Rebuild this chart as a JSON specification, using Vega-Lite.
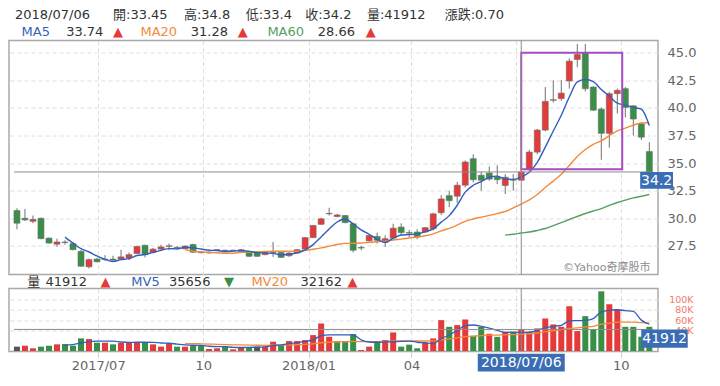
{
 "$schema": "https://vega.github.io/schema/vega-lite/v6.json",
 "background": "white",
 "padding": {"left": 8, "top": 7.5, "right": 2, "bottom": 2},
 "bounds": "flush",
 "spacing": 14,
 "config": {
  "font": "DejaVu Sans, Noto Sans CJK TC, sans-serif",
  "view": {"stroke": "#a9a9a9", "strokeWidth": 1.5},
  "axis": {"gridColor": "#dedede", "gridDash": [4, 3], "gridWidth": 1, "labelColor": "#666666", "labelOverlap": false, "labelFlush": false, "labelBound": false, "titleOpacity": 0}
 },
 "datasets": {
  "k": [
   {"d":"2017-04-21","o":30.7,"h":30.9,"l":29.0,"c":29.55,"v":8400,"vd":"f"},
   {"d":"2017-04-28","o":30.0,"h":30.85,"l":29.75,"c":29.85,"v":10300,"vd":"u"},
   {"d":"2017-05-05","o":29.72,"h":30.25,"l":29.55,"c":29.9,"v":5200,"vd":"u"},
   {"d":"2017-05-12","o":30.0,"h":30.05,"l":28.1,"c":28.15,"v":8400,"vd":"d"},
   {"d":"2017-05-19","o":28.2,"h":28.25,"l":27.7,"c":27.75,"v":10300,"vd":"d"},
   {"d":"2017-05-26","o":27.65,"h":28.15,"l":27.4,"c":27.85,"v":12900,"vd":"u"},
   {"d":"2017-06-02","o":27.85,"h":28.0,"l":27.6,"c":27.8,"v":13500,"vd":"d","m5":28.29,"v5":11500},
   {"d":"2017-06-09","o":27.7,"h":27.85,"l":27.1,"c":27.15,"v":10300,"vd":"d","m5":27.74,"v5":12500},
   {"d":"2017-06-16","o":27.0,"h":27.1,"l":25.6,"c":25.65,"v":24500,"vd":"d","m5":27.24,"v5":15500},
   {"d":"2017-06-23","o":25.6,"h":26.35,"l":25.45,"c":26.25,"v":23200,"vd":"u","m5":26.94,"v5":18000},
   {"d":"2017-06-30","o":26.3,"h":26.4,"l":26.0,"c":26.05,"v":16100,"vd":"d","m5":26.58,"v5":19000},
   {"d":"2017-07-07","o":26.3,"h":26.65,"l":26.15,"c":26.25,"v":16100,"vd":"u","m5":26.27,"v5":19000},
   {"d":"2017-07-14","o":26.3,"h":26.6,"l":26.15,"c":26.2,"v":12900,"vd":"d","m5":26.08,"v5":19000},
   {"d":"2017-07-21","o":26.3,"h":27.15,"l":26.25,"c":26.5,"v":16100,"vd":"u","m5":26.25,"v5":17500},
   {"d":"2017-07-28","o":26.4,"h":26.9,"l":26.2,"c":26.7,"v":17400,"vd":"u","m5":26.34,"v5":16800},
   {"d":"2017-08-04","o":26.8,"h":27.5,"l":26.75,"c":27.45,"v":17400,"vd":"u","m5":26.62,"v5":17000},
   {"d":"2017-08-11","o":27.55,"h":27.6,"l":26.45,"c":26.7,"v":16100,"vd":"d","m5":26.71,"v5":17000},
   {"d":"2017-08-18","o":26.9,"h":27.3,"l":26.8,"c":27.2,"v":12900,"vd":"u","m5":26.91,"v5":16800},
   {"d":"2017-08-25","o":27.2,"h":27.6,"l":27.1,"c":27.4,"v":8400,"vd":"u","m5":27.09,"v5":15500},
   {"d":"2017-09-01","o":27.45,"h":27.7,"l":27.1,"c":27.5,"v":14800,"vd":"u","m5":27.25,"v5":15000},
   {"d":"2017-09-08","o":27.35,"h":27.5,"l":27.15,"c":27.3,"v":8400,"vd":"d","m5":27.22,"v5":13500},
   {"d":"2017-09-15","o":27.23,"h":27.55,"l":27.2,"c":27.47,"v":8400,"vd":"u","m5":27.37,"m20":27.16,"v5":12000,"v20":14500},
   {"d":"2017-09-22","o":27.62,"h":27.7,"l":26.85,"c":26.92,"v":10300,"vd":"d","m5":27.32,"m20":27.01,"v5":11200,"v20":14300},
   {"d":"2017-09-29","o":26.95,"h":27.0,"l":26.8,"c":26.88,"v":10300,"vd":"d","m5":27.21,"m20":26.95,"v5":11000,"v20":14000},
   {"d":"2017-10-06","o":26.85,"h":27.0,"l":26.8,"c":26.92,"v":3900,"vd":"u","m5":27.1,"m20":26.91,"v5":9200,"v20":13500},
   {"d":"2017-10-13","o":27.1,"h":27.2,"l":27.05,"c":27.15,"v":5200,"vd":"u","m5":27.07,"m20":26.87,"v5":8500,"v20":13000},
   {"d":"2017-10-20","o":27.1,"h":27.15,"l":27.0,"c":27.05,"v":8400,"vd":"d","m5":26.98,"m20":26.83,"v5":8300,"v20":12500},
   {"d":"2017-10-27","o":27.05,"h":27.15,"l":27.0,"c":27.1,"v":3200,"vd":"u","m5":27.02,"m20":26.83,"v5":7200,"v20":12000},
   {"d":"2017-11-03","o":27.0,"h":27.2,"l":26.95,"c":27.15,"v":6500,"vd":"u","m5":27.07,"m20":26.91,"v5":6800,"v20":11800},
   {"d":"2017-11-10","o":27.0,"h":27.05,"l":26.5,"c":26.55,"v":6500,"vd":"d","m5":27.0,"m20":26.92,"v5":7000,"v20":11500},
   {"d":"2017-11-17","o":26.95,"h":27.0,"l":26.5,"c":26.55,"v":8400,"vd":"f","m5":26.88,"m20":26.95,"v5":7600,"v20":11200},
   {"d":"2017-11-24","o":26.7,"h":26.95,"l":26.65,"c":26.9,"v":8400,"vd":"u","m5":26.85,"m20":26.98,"v5":7800,"v20":11000},
   {"d":"2017-12-01","o":26.9,"h":27.85,"l":26.5,"c":26.95,"v":18000,"vd":"u","m5":26.82,"m20":27.02,"v5":10500,"v20":11200},
   {"d":"2017-12-08","o":26.9,"h":26.95,"l":26.4,"c":26.45,"v":11600,"vd":"d","m5":26.68,"m20":27.01,"v5":11800,"v20":11400},
   {"d":"2017-12-15","o":26.6,"h":26.95,"l":26.5,"c":26.85,"v":19300,"vd":"u","m5":26.74,"m20":27.02,"v5":14200,"v20":11800},
   {"d":"2017-12-22","o":26.85,"h":27.2,"l":26.8,"c":27.15,"v":19300,"vd":"u","m5":26.86,"m20":27.01,"v5":16300,"v20":12300},
   {"d":"2017-12-29","o":27.2,"h":28.3,"l":27.15,"c":28.25,"v":21300,"vd":"u","m5":27.13,"m20":27.08,"v5":18600,"v20":13000},
   {"d":"2018-01-05","o":28.25,"h":29.4,"l":28.2,"c":29.35,"v":30900,"vd":"u","m5":27.61,"m20":27.19,"v5":21500,"v20":14000},
   {"d":"2018-01-12","o":29.45,"h":30.05,"l":29.4,"c":29.95,"v":53500,"vd":"u","m5":28.31,"m20":27.32,"v5":29800,"v20":16000},
   {"d":"2018-01-19","o":30.4,"h":30.95,"l":30.25,"c":30.45,"v":27700,"vd":"u","m5":29.03,"m20":27.47,"v5":31500,"v20":17000},
   {"d":"2018-01-26","o":30.15,"h":30.4,"l":30.1,"c":30.3,"v":19300,"vd":"d","m5":29.66,"m20":27.62,"v5":31500,"v20":17500},
   {"d":"2018-02-02","o":30.25,"h":30.3,"l":29.55,"c":29.6,"v":19300,"vd":"d","m5":29.93,"m20":27.72,"v5":31200,"v20":17800},
   {"d":"2018-02-09","o":29.5,"h":29.6,"l":26.9,"c":27.1,"v":32900,"vd":"d","m5":29.48,"m20":27.73,"v5":31200,"v20":18500},
   {"d":"2018-02-16","o":27.35,"h":27.5,"l":27.1,"c":27.3,"v":2000,"vd":"u","m5":28.95,"m20":27.75,"v5":21500,"v20":18300},
   {"d":"2018-02-23","o":27.95,"h":28.5,"l":27.9,"c":28.45,"v":8400,"vd":"u","m5":28.55,"m20":27.83,"v5":17500,"v20":18200},
   {"d":"2018-03-02","o":28.35,"h":28.7,"l":27.7,"c":28.0,"v":18000,"vd":"d","m5":28.09,"m20":27.87,"v5":17000,"v20":18300},
   {"d":"2018-03-09","o":27.85,"h":28.45,"l":27.4,"c":28.15,"v":21300,"vd":"u","m5":27.8,"m20":27.93,"v5":17500,"v20":18600},
   {"d":"2018-03-16","o":28.2,"h":29.5,"l":28.1,"c":29.1,"v":36100,"vd":"u","m5":28.2,"m20":28.03,"v5":18000,"v20":19500},
   {"d":"2018-03-23","o":29.2,"h":29.55,"l":28.45,"c":28.7,"v":8400,"vd":"d","m5":28.48,"m20":28.11,"v5":18800,"v20":19400},
   {"d":"2018-03-30","o":28.7,"h":28.95,"l":28.3,"c":28.65,"v":12300,"vd":"d","m5":28.52,"m20":28.21,"v5":19200,"v20":19600},
   {"d":"2018-04-06","o":28.75,"h":29.0,"l":28.1,"c":28.3,"v":5200,"vd":"d","m5":28.58,"m20":28.3,"v5":17000,"v20":19400},
   {"d":"2018-04-13","o":28.75,"h":29.2,"l":28.7,"c":29.15,"v":16100,"vd":"u","m5":28.78,"m20":28.41,"v5":16000,"v20":19400},
   {"d":"2018-04-20","o":29.05,"h":30.5,"l":28.9,"c":30.4,"v":24500,"vd":"u","m5":29.04,"m20":28.58,"v5":14500,"v20":19600},
   {"d":"2018-04-27","o":30.5,"h":32.1,"l":30.3,"c":31.75,"v":60000,"vd":"u","m5":29.65,"m20":28.85,"v5":24000,"v20":21500},
   {"d":"2018-05-04","o":32.05,"h":32.5,"l":31.0,"c":31.6,"v":47000,"vd":"d","m5":30.24,"m20":29.09,"v5":31000,"v20":23500},
   {"d":"2018-05-11","o":32.0,"h":33.3,"l":31.4,"c":33.0,"v":50300,"vd":"u","m5":31.18,"m20":29.38,"v5":40000,"v20":25500},
   {"d":"2018-05-18","o":33.0,"h":35.25,"l":32.8,"c":35.1,"v":61300,"vd":"u","m5":32.37,"m20":29.72,"v5":49500,"v20":28000},
   {"d":"2018-05-25","o":35.4,"h":35.8,"l":33.25,"c":33.5,"v":29700,"vd":"d","m5":32.99,"m20":29.93,"v5":50500,"v20":28500},
   {"d":"2018-06-01","o":33.9,"h":34.2,"l":32.5,"c":33.45,"v":47000,"vd":"d","m5":33.33,"m20":30.1,"v5":48000,"v20":30000},
   {"d":"2018-06-08","o":34.1,"h":34.7,"l":33.4,"c":33.55,"v":33500,"vd":"u","m5":33.72,"m20":30.26,"v5":44500,"v20":30800},
   {"d":"2018-06-15","o":33.75,"h":34.8,"l":33.1,"c":33.5,"v":27500,"vd":"d","m5":33.82,"m20":30.42,"v5":40000,"v20":31000},
   {"d":"2018-06-22","o":32.97,"h":34.0,"l":32.2,"c":33.72,"v":37400,"vd":"u","m5":33.54,"m20":30.62,"m60":28.48,"v5":36000,"v20":31500},
   {"d":"2018-06-29","o":33.5,"h":34.0,"l":32.5,"c":33.45,"v":37400,"vd":"d","m5":33.53,"m20":30.94,"m60":28.55,"v5":36500,"v20":31800},
   {"d":"2018-07-06","o":33.45,"h":34.8,"l":33.4,"c":34.2,"v":41912,"vd":"u","m5":33.74,"m20":31.28,"m60":28.66,"v5":35656,"v20":32162},
   {"d":"2018-07-13","o":34.45,"h":36.2,"l":34.3,"c":36.0,"v":37400,"vd":"u","m5":34.17,"m20":31.66,"m60":28.75,"v5":36500,"v20":33500},
   {"d":"2018-07-20","o":36.0,"h":38.1,"l":35.8,"c":38.0,"v":43900,"vd":"u","m5":35.07,"m20":32.16,"m60":28.89,"v5":39800,"v20":35000},
   {"d":"2018-07-27","o":38.0,"h":41.9,"l":37.9,"c":40.6,"v":63200,"vd":"u","m5":36.45,"m20":32.79,"m60":29.07,"v5":45000,"v20":37500},
   {"d":"2018-08-03","o":40.7,"h":42.5,"l":40.5,"c":40.75,"v":51600,"vd":"u","m5":37.91,"m20":33.37,"m60":29.34,"v5":48000,"v20":39500},
   {"d":"2018-08-10","o":40.85,"h":42.55,"l":40.65,"c":41.35,"v":47000,"vd":"u","m5":39.34,"m20":34.0,"m60":29.61,"v5":50000,"v20":41500},
   {"d":"2018-08-17","o":42.45,"h":44.5,"l":41.75,"c":44.25,"v":87000,"vd":"u","m5":40.99,"m20":34.78,"m60":29.89,"v5":58600,"v20":44000},
   {"d":"2018-08-24","o":44.4,"h":45.8,"l":43.7,"c":44.85,"v":38700,"vd":"u","m5":42.36,"m20":35.61,"m60":30.16,"v5":59000,"v20":45000},
   {"d":"2018-08-31","o":45.0,"h":45.8,"l":41.5,"c":41.75,"v":67700,"vd":"d","m5":42.59,"m20":36.24,"m60":30.43,"v5":59500,"v20":47000},
   {"d":"2018-09-07","o":41.9,"h":41.95,"l":39.75,"c":39.8,"v":42000,"vd":"d","m5":42.4,"m20":36.71,"m60":30.66,"v5":63000,"v20":48000},
   {"d":"2018-09-14","o":39.9,"h":40.05,"l":35.3,"c":37.7,"v":116000,"vd":"d","m5":41.67,"m20":37.01,"m60":30.88,"v5":76000,"v20":52000},
   {"d":"2018-09-21","o":37.7,"h":41.45,"l":36.4,"c":41.3,"v":90900,"vd":"u","m5":41.08,"m20":37.49,"m60":31.16,"v5":79000,"v20":54000},
   {"d":"2018-09-28","o":41.3,"h":41.75,"l":39.5,"c":41.6,"v":80700,"vd":"u","m5":40.43,"m20":37.92,"m60":31.43,"v5":80200,"v20":56000},
   {"d":"2018-10-05","o":41.75,"h":41.9,"l":39.15,"c":40.05,"v":47000,"vd":"d","m5":40.25,"m20":38.17,"m60":31.65,"v5":78500,"v20":56300},
   {"d":"2018-10-12","o":40.2,"h":40.25,"l":37.5,"c":39.0,"v":47000,"vd":"d","m5":40.05,"m20":38.44,"m60":31.85,"v5":77000,"v20":56000},
   {"d":"2018-10-19","o":38.55,"h":38.7,"l":37.1,"c":37.35,"v":27700,"vd":"d","m5":39.9,"m20":38.64,"m60":32.0,"v5":60000,"v20":55000},
   {"d":"2018-10-26","o":36.05,"h":36.9,"l":33.6,"c":34.0,"v":47000,"vd":"d","m5":38.4,"m20":38.66,"m60":32.15,"v5":52000,"v20":54300}
  ],
  "sel": [{"d": "2018-07-06", "c": 34.2, "v": 41912, "dl": "2018/07/06"}],
  "box": [{"d": "2018-07-06", "d2": "2018-10-02T07:00:00Z", "p1": 34.45, "p2": 45.0}],
  "wm": [{"d": "2018-10-27", "p": 25.53, "t": "©Yahoo奇摩股市"}],
  "hdr": [
   {"d":"2017-04-19T07:00:00Z","p":48.47,"t":"2018/07/06","k":"t"},
   {"d":"2017-07-14","p":48.47,"t":"開:33.45","k":"t"},
   {"d":"2017-09-14","p":48.47,"t":"高:34.8","k":"t"},
   {"d":"2017-11-07","p":48.47,"t":"低:33.4","k":"t"},
   {"d":"2017-12-29","p":48.47,"t":"收:34.2","k":"t"},
   {"d":"2018-02-21","p":48.47,"t":"量:41912","k":"t"},
   {"d":"2018-04-30","p":48.47,"t":"漲跌:0.70","k":"t"},
   {"d":"2017-04-25","p":46.93,"t":"MA5","k":"a5"},
   {"d":"2017-06-03","p":46.93,"t":"33.74","k":"t"},
   {"d":"2017-07-14","p":46.93,"t":"▲","k":"u"},
   {"d":"2017-08-07","p":46.93,"t":"MA20","k":"a20"},
   {"d":"2017-09-20","p":46.93,"t":"31.28","k":"t"},
   {"d":"2017-10-31","p":46.93,"t":"▲","k":"u"},
   {"d":"2017-11-26","p":46.93,"t":"MA60","k":"a60"},
   {"d":"2018-01-09","p":46.93,"t":"28.66","k":"t"},
   {"d":"2018-02-20","p":46.93,"t":"▲","k":"u"}
  ],
  "vhdr": [
   {"d":"2017-04-30","p":134400,"t":"量","k":"t"},
   {"d":"2017-05-16","p":134400,"t":"41912","k":"t"},
   {"d":"2017-07-03","p":134400,"t":"▲","k":"u"},
   {"d":"2017-07-30","p":134400,"t":"MV5","k":"a5"},
   {"d":"2017-09-01","p":134400,"t":"35656","k":"t"},
   {"d":"2017-10-19","p":134400,"t":"▼","k":"d"},
   {"d":"2017-11-12","p":134400,"t":"MV20","k":"a20"},
   {"d":"2017-12-25","p":134400,"t":"32162","k":"t"},
   {"d":"2018-02-04","p":134400,"t":"▲","k":"u"}
  ]
 },
 "vconcat": [
  {
   "width": 649,
   "height": 234,
   "encoding": {
    "x": {"field": "d", "type": "temporal", "title": null,
     "scale": {"type": "utc", "domain": [{"year": 2017, "month": 4, "date": 18, "hours": 10, "utc": true}, {"year": 2018, "month": 10, "date": 29, "hours": 5, "utc": true}]},
     "axis": {"values": [{"year": 2017, "month": 7, "date": 1, "utc": true}, {"year": 2017, "month": 10, "date": 1, "utc": true}, {"year": 2018, "month": 1, "date": 1, "utc": true}, {"year": 2018, "month": 4, "date": 1, "utc": true}, {"year": 2018, "month": 7, "date": 1, "utc": true}, {"year": 2018, "month": 10, "date": 1, "utc": true}],
      "tickCount": 40, "labels": false, "ticks": false, "domain": false, "grid": true}}
   },
   "layer": [
    {"data": {"name": "k"}, "mark": {"type": "rule", "color": "#707070", "strokeWidth": 1},
     "encoding": {
      "y": {"field": "l", "type": "quantitative", "title": null, "scale": {"domain": [24.9, 46.12], "nice": false, "zero": false},
       "axis": {"orient": "right", "values": [27.5, 30, 32.5, 35, 37.5, 40, 42.5, 45], "tickCount": 40, "format": ".1f", "ticks": false, "domain": false, "labelPadding": 9, "labelFontSize": 13, "labelAlign": "left", "labelBaseline": "middle", "labelOverlap": false, "labelBound": false, "grid": true}},
      "y2": {"field": "h"}}},
    {"data": {"name": "k"}, "mark": {"type": "bar", "width": 6, "stroke": "#6b6b6b", "strokeWidth": 0.6},
     "encoding": {
      "y": {"field": "o", "type": "quantitative", "title": null, "scale": {"domain": [24.9, 46.12], "nice": false, "zero": false}},
      "y2": {"field": "c"},
      "color": {"condition": {"test": "datum.c >= datum.o", "value": "#e53a3a"}, "value": "#3a8f46"}}},
    {"data": {"name": "k"}, "mark": {"type": "line", "color": "#55a05f", "strokeWidth": 1.4, "interpolate": "monotone"},
     "encoding": {"y": {"field": "m60", "type": "quantitative", "title": null, "scale": {"domain": [24.9, 46.12], "nice": false, "zero": false}}}},
    {"data": {"name": "k"}, "mark": {"type": "line", "color": "#f28a3c", "strokeWidth": 1.4, "interpolate": "monotone"},
     "encoding": {"y": {"field": "m20", "type": "quantitative", "title": null, "scale": {"domain": [24.9, 46.12], "nice": false, "zero": false}}}},
    {"data": {"name": "k"}, "mark": {"type": "line", "color": "#2f5fbf", "strokeWidth": 1.4, "interpolate": "monotone"},
     "encoding": {"y": {"field": "m5", "type": "quantitative", "title": null, "scale": {"domain": [24.9, 46.12], "nice": false, "zero": false}}}},
    {"data": {"name": "box"}, "mark": {"type": "rect", "filled": false, "color": "#a64cc0", "strokeWidth": 2},
     "encoding": {
      "x2": {"field": "d2"},
      "y": {"field": "p1", "type": "quantitative", "title": null, "scale": {"domain": [24.9, 46.12], "nice": false, "zero": false}},
      "y2": {"field": "p2"}}},
    {"data": {"name": "sel"}, "mark": {"type": "rule", "color": "#8c8c8c", "strokeWidth": 1}, "encoding": {}},
    {"data": {"name": "sel"}, "mark": {"type": "rule", "color": "#8c8c8c", "strokeWidth": 1},
     "encoding": {
      "x": {"datum": {"year": 2017, "month": 4, "date": 18, "hours": 10, "utc": true}, "type": "temporal"},
      "x2": {"datum": {"year": 2018, "month": 10, "date": 29, "hours": 5, "utc": true}},
      "y": {"field": "c", "type": "quantitative", "title": null, "scale": {"domain": [24.9, 46.12], "nice": false, "zero": false}}}},
    {"data": {"name": "sel"}, "mark": {"type": "rect", "color": "#3b6db4"},
     "encoding": {
      "x": {"datum": {"year": 2018, "month": 10, "date": 18, "utc": true}, "type": "temporal"},
      "x2": {"datum": {"year": 2018, "month": 11, "date": 15, "hours": 17, "utc": true}},
      "y": {"field": "c", "type": "quantitative", "title": null, "scale": {"domain": [24.9, 46.12], "nice": false, "zero": false}},
      "y2": {"datum": 32.67}}},
    {"data": {"name": "sel"}, "mark": {"type": "text", "color": "white", "fontSize": 14, "align": "center", "baseline": "middle"},
     "encoding": {
      "x": {"datum": {"year": 2018, "month": 11, "date": 1, "hours": 10, "utc": true}, "type": "temporal"},
      "y": {"datum": 33.42, "type": "quantitative"},
      "text": {"field": "c", "type": "quantitative", "format": ".1f"}}},
    {"data": {"name": "hdr"}, "mark": {"type": "text", "fontSize": 13, "align": "left", "baseline": "middle"},
     "encoding": {
      "y": {"field": "p", "type": "quantitative", "title": null, "scale": {"domain": [24.9, 46.12], "nice": false, "zero": false}},
      "text": {"field": "t"},
      "color": {"field": "k", "type": "nominal", "legend": null, "scale": {"domain": ["t", "a5", "a20", "a60", "u", "d", "f", "g"], "range": ["#333333", "#3563b9", "#f28a3c", "#55a05f", "#e53a3a", "#3a8f46", "#555555", "#8c8c8c"]}}}},
    {"data": {"name": "wm"}, "mark": {"type": "text", "fontSize": 11, "align": "right", "baseline": "middle", "color": "#8c8c8c"},
     "encoding": {
      "y": {"field": "p", "type": "quantitative", "title": null, "scale": {"domain": [24.9, 46.12], "nice": false, "zero": false}},
      "text": {"field": "t"}}}
   ]
  },
  {
   "width": 649,
   "height": 63,
   "encoding": {
    "x": {"field": "d", "type": "temporal", "title": null,
     "scale": {"type": "utc", "domain": [{"year": 2017, "month": 4, "date": 18, "hours": 10, "utc": true}, {"year": 2018, "month": 10, "date": 29, "hours": 5, "utc": true}]},
     "axis": {"values": [{"year": 2017, "month": 7, "date": 1, "utc": true}, {"year": 2017, "month": 10, "date": 1, "utc": true}, {"year": 2018, "month": 1, "date": 1, "utc": true}, {"year": 2018, "month": 4, "date": 1, "utc": true}, {"year": 2018, "month": 7, "date": 1, "utc": true}, {"year": 2018, "month": 10, "date": 1, "utc": true}],
      "tickCount": 40,
      "labelExpr": "utcmonth(datum.value) == 0 || datum.index == 0 ? utcFormat(datum.value, '%Y/%m') : (utcyear(datum.value) == 2018 && utcmonth(datum.value) == 6 ? '' : utcFormat(datum.value, '%m'))",
      "ticks": true, "tickSize": 6, "tickColor": "#c8d2dc", "domain": false, "grid": true, "labelFontSize": 13, "labelPadding": 2, "labelOverlap": false, "labelFlush": false}}
   },
   "layer": [
    {"data": {"name": "k"}, "mark": {"type": "bar", "width": 6},
     "encoding": {
      "y": {"field": "v", "type": "quantitative", "title": null, "scale": {"domain": [-1000, 121500], "nice": false, "zero": false},
       "axis": {"orient": "right", "values": [40000, 60000, 80000, 100000], "tickCount": 40, "labelExpr": "(datum.value / 1000) + 'K'", "ticks": false, "domain": false, "labelColor": "#ee7b6a", "labelFontSize": 9.5, "labelAlign": "right", "labelPadding": 35, "labelBaseline": "middle", "labelOverlap": false, "labelBound": false, "grid": true}},
      "color": {"field": "vd", "type": "nominal", "legend": null, "scale": {"domain": ["t", "a5", "a20", "a60", "u", "d", "f", "g"], "range": ["#333333", "#3563b9", "#f28a3c", "#55a05f", "#e53a3a", "#3a8f46", "#555555", "#8c8c8c"]}}}},
    {"data": {"name": "k"}, "mark": {"type": "line", "color": "#f28a3c", "strokeWidth": 1.3, "interpolate": "monotone"},
     "encoding": {"y": {"field": "v20", "type": "quantitative", "title": null, "scale": {"domain": [-1000, 121500], "nice": false, "zero": false}}}},
    {"data": {"name": "k"}, "mark": {"type": "line", "color": "#2f5fbf", "strokeWidth": 1.3, "interpolate": "monotone"},
     "encoding": {"y": {"field": "v5", "type": "quantitative", "title": null, "scale": {"domain": [-1000, 121500], "nice": false, "zero": false}}}},
    {"data": {"name": "sel"}, "mark": {"type": "rule", "color": "#8c8c8c", "strokeWidth": 1}, "encoding": {}},
    {"data": {"name": "sel"}, "mark": {"type": "rule", "color": "#8c8c8c", "strokeWidth": 1},
     "encoding": {
      "x": {"datum": {"year": 2017, "month": 4, "date": 18, "hours": 10, "utc": true}, "type": "temporal"},
      "x2": {"datum": {"year": 2018, "month": 10, "date": 29, "hours": 5, "utc": true}},
      "y": {"field": "v", "type": "quantitative", "title": null, "scale": {"domain": [-1000, 121500], "nice": false, "zero": false}}}},
    {"data": {"name": "sel"}, "mark": {"type": "rect", "color": "#3b6db4"},
     "encoding": {
      "x": {"datum": {"year": 2018, "month": 10, "date": 18, "hours": 22, "utc": true}, "type": "temporal"},
      "x2": {"datum": {"year": 2018, "month": 11, "date": 28, "hours": 14, "utc": true}},
      "y": {"field": "v", "type": "quantitative", "title": null, "scale": {"domain": [-1000, 121500], "nice": false, "zero": false}},
      "y2": {"datum": 6250}}},
    {"data": {"name": "sel"}, "mark": {"type": "text", "color": "white", "fontSize": 14, "align": "center", "baseline": "middle"},
     "encoding": {
      "x": {"datum": {"year": 2018, "month": 11, "date": 8, "hours": 7, "utc": true}, "type": "temporal"},
      "y": {"datum": 23000, "type": "quantitative"},
      "text": {"field": "v", "type": "quantitative", "format": "d"}}},
    {"data": {"name": "sel"}, "mark": {"type": "bar", "width": 87, "color": "#3b6db4"},
     "encoding": {
      "y": {"datum": -5500, "type": "quantitative"},
      "y2": {"datum": -40000}}},
    {"data": {"name": "sel"}, "mark": {"type": "text", "color": "white", "fontSize": 14, "align": "center", "baseline": "middle"},
     "encoding": {
      "y": {"datum": -22500, "type": "quantitative"},
      "text": {"field": "dl"}}},
    {"data": {"name": "vhdr"}, "mark": {"type": "text", "fontSize": 13, "align": "left", "baseline": "middle"},
     "encoding": {
      "y": {"field": "p", "type": "quantitative", "title": null, "scale": {"domain": [-1000, 121500], "nice": false, "zero": false}},
      "text": {"field": "t"},
      "color": {"field": "k", "type": "nominal", "legend": null, "scale": {"domain": ["t", "a5", "a20", "a60", "u", "d", "f", "g"], "range": ["#333333", "#3563b9", "#f28a3c", "#55a05f", "#e53a3a", "#3a8f46", "#555555", "#8c8c8c"]}}}}
   ]
  }
 ]
}
